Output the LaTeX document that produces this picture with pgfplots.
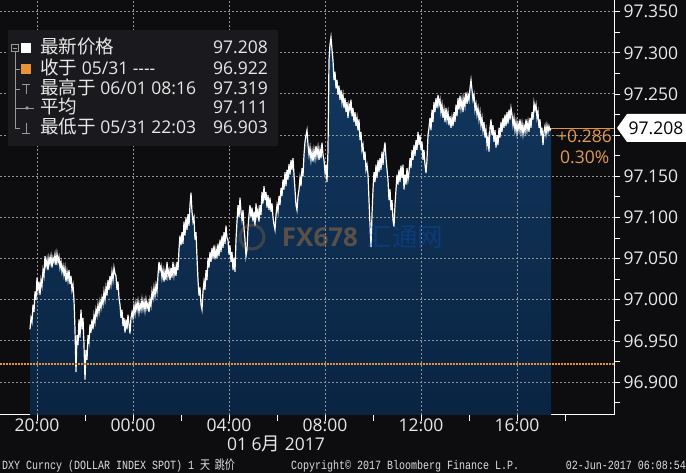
\documentclass[border=0pt]{standalone}
\usepackage{fontspec}
\setmainfont{Open Sans}
\newfontfamily\cjk[Scale=1.06]{Noto Sans CJK SC}
\newfontfamily\mono{Liberation Mono}
\usepackage{graphicx}
\usepackage{pgfplots}
\usepackage{pgfplotstable}
\pgfplotsset{compat=1.18}
\definecolor{bg}{HTML}{0D0D10}
\definecolor{legbg}{HTML}{1A1A1E}
\definecolor{orng}{HTML}{E8923A}
\definecolor{orngtxt}{HTML}{E39A52}
\definecolor{txt}{HTML}{E8E8E8}
\definecolor{areatop}{RGB}{18,56,96}
\definecolor{areabot}{RGB}{10,36,66}
\tikzset{gl/.style={draw=gray!85, line width=1pt, dash pattern=on 2pt off 2pt}}

% x = minutes from 01 Jun 00:00, y = DXY
\pgfplotstableread[row sep=\\]{
x y\\
-257.5 96.964\\ -255 96.978\\ -252.5 96.973\\ -250 96.994\\ -247.5 96.985\\ -245 97.010\\ -242.5 97.000\\ -240 97.027\\ -237.5 97.012\\ -235 97.022\\
-232.5 97.006\\ -230 97.024\\ -227.5 97.017\\ -225 97.036\\ -222.5 97.029\\ -220 97.053\\ -217.5 97.041\\ -215 97.049\\ -212.5 97.036\\ -210 97.051\\
-207.5 97.044\\ -205 97.053\\ -202.5 97.039\\ -200 97.051\\ -197.5 97.046\\ -195 97.055\\ -192.5 97.042\\ -190 97.056\\ -187.5 97.046\\ -185 97.052\\
-182.5 97.039\\ -180 97.046\\ -177.5 97.034\\ -175 97.041\\ -172.5 97.030\\ -170 97.039\\ -167.5 97.022\\ -165 97.034\\ -162.5 97.024\\ -160 97.036\\
-157.5 97.019\\ -155 97.029\\ -152.5 97.012\\ -150 97.018\\ -147.5 97.000\\ -145 96.964\\ -142.5 96.912\\ -140 96.957\\ -137.5 96.945\\ -135 96.976\\
-132.5 96.954\\ -130 96.988\\ -127.5 96.964\\ -125 96.978\\ -122.5 96.945\\ -120 96.903\\ -117.5 96.939\\ -115 96.927\\ -112.5 96.957\\ -110 96.949\\
-107.5 96.970\\ -105 96.960\\ -102.5 96.976\\ -100 96.964\\ -97.5 96.981\\ -95 96.973\\ -92.5 96.988\\ -90 96.981\\ -87.5 96.994\\ -85 96.985\\
-82.5 96.998\\ -80 96.990\\ -77.5 97.002\\ -75 96.995\\ -72.5 97.010\\ -70 97.000\\ -67.5 97.015\\ -65 97.005\\ -62.5 97.024\\ -60 97.012\\
-57.5 97.029\\ -55 97.019\\ -52.5 97.034\\ -50 97.024\\ -47.5 97.039\\ -45 97.032\\ -42.5 97.029\\ -40 97.012\\ -37.5 97.022\\ -35 97.002\\
-32.5 96.994\\ -30 96.978\\ -27.5 96.988\\ -25 96.968\\ -22.5 96.978\\ -20 96.960\\ -17.5 96.976\\ -15 96.964\\ -12.5 96.982\\ -10 96.970\\
-7.5 96.959\\ -5 96.978\\ -2.5 96.985\\ 0 96.978\\ 2.5 96.993\\ 5 96.983\\ 7.5 96.996\\ 10 96.988\\ 12.5 96.998\\ 15 96.985\\
17.5 96.995\\ 20 96.988\\ 22.5 97.000\\ 25 96.989\\ 27.5 96.998\\ 30 96.987\\ 32.5 97.000\\ 35 96.990\\ 37.5 96.996\\ 40 96.985\\
42.5 97.000\\ 45 96.993\\ 47.5 97.010\\ 50 97.002\\ 52.5 97.015\\ 55 97.005\\ 57.5 97.018\\ 60 97.010\\ 62.5 97.030\\ 65 97.046\\
67.5 97.036\\ 70 97.041\\ 72.5 97.027\\ 75 97.036\\ 77.5 97.022\\ 80 97.034\\ 82.5 97.024\\ 85 97.046\\ 87.5 97.029\\ 90 97.036\\
92.5 97.024\\ 95 97.039\\ 97.5 97.027\\ 100 97.046\\ 102.5 97.030\\ 105 97.039\\ 107.5 97.029\\ 110 97.046\\ 112.5 97.036\\ 115 97.061\\
117.5 97.078\\ 120 97.066\\ 122.5 97.082\\ 125 97.068\\ 127.5 97.095\\ 130 97.078\\ 132.5 97.100\\ 135 97.085\\ 137.5 97.104\\ 140 97.090\\
142.5 97.115\\ 145 97.130\\ 147.5 97.107\\ 150 97.095\\ 152.5 97.100\\ 155 97.073\\ 157.5 97.082\\ 160 97.051\\ 162.5 97.024\\ 165 97.005\\
167.5 97.015\\ 170 96.994\\ 172.5 96.988\\ 175 97.010\\ 177.5 97.022\\ 180 97.012\\ 182.5 97.036\\ 185 97.024\\ 187.5 97.051\\ 190 97.039\\
192.5 97.058\\ 195 97.046\\ 197.5 97.063\\ 200 97.051\\ 202.5 97.066\\ 205 97.049\\ 207.5 97.061\\ 210 97.051\\ 212.5 97.068\\ 215 97.053\\
217.5 97.073\\ 220 97.058\\ 222.5 97.078\\ 225 97.063\\ 227.5 97.082\\ 230 97.068\\ 232.5 97.090\\ 235 97.075\\ 237.5 97.073\\ 240 97.055\\
242.5 97.066\\ 245 97.046\\ 247.5 97.058\\ 250 97.036\\ 252.5 97.051\\ 255 97.034\\ 257.5 97.073\\ 260 97.095\\ 262.5 97.115\\ 265 97.100\\
267.5 97.124\\ 270 97.107\\ 272.5 97.097\\ 275 97.109\\ 277.5 97.087\\ 280 97.073\\ 282.5 97.053\\ 285 97.061\\ 287.5 97.087\\ 290 97.103\\
292.5 97.115\\ 295 97.100\\ 297.5 97.112\\ 300 97.095\\ 302.5 97.107\\ 305 97.090\\ 307.5 97.117\\ 310 97.102\\ 312.5 97.109\\ 315 97.095\\
317.5 97.115\\ 320 97.103\\ 322.5 97.131\\ 325 97.117\\ 327.5 97.138\\ 330 97.121\\ 332.5 97.131\\ 335 97.112\\ 337.5 97.127\\ 340 97.109\\
342.5 97.124\\ 345 97.107\\ 347.5 97.117\\ 350 97.100\\ 352.5 97.091\\ 355 97.085\\ 357.5 97.103\\ 360 97.115\\ 362.5 97.107\\ 365 97.126\\
367.5 97.115\\ 370 97.136\\ 372.5 97.126\\ 375 97.146\\ 377.5 97.134\\ 380 97.155\\ 382.5 97.138\\ 385 97.158\\ 387.5 97.146\\ 390 97.165\\
392.5 97.152\\ 395 97.170\\ 397.5 97.158\\ 400 97.172\\ 402.5 97.152\\ 405 97.134\\ 407.5 97.115\\ 410 97.109\\ 412.5 97.126\\ 415 97.134\\
417.5 97.148\\ 420 97.138\\ 422.5 97.160\\ 425 97.150\\ 427.5 97.176\\ 430 97.192\\ 432.5 97.200\\ 435 97.206\\ 437.5 97.188\\ 440 97.176\\
442.5 97.185\\ 445 97.170\\ 447.5 97.180\\ 450 97.168\\ 452.5 97.182\\ 455 97.172\\ 457.5 97.187\\ 460 97.175\\ 462.5 97.185\\ 465 97.170\\
467.5 97.182\\ 470 97.172\\ 472.5 97.191\\ 475 97.176\\ 477.5 97.170\\ 480 97.155\\ 482.5 97.164\\ 485 97.143\\ 487.5 97.182\\ 490 97.291\\
492.5 97.310\\ 495 97.319\\ 497.5 97.304\\ 500 97.291\\ 502.5 97.267\\ 505 97.277\\ 507.5 97.257\\ 510 97.267\\ 512.5 97.249\\ 515 97.260\\
517.5 97.243\\ 520 97.255\\ 522.5 97.240\\ 525 97.249\\ 527.5 97.233\\ 530 97.245\\ 532.5 97.228\\ 535 97.240\\ 537.5 97.221\\ 540 97.237\\
542.5 97.231\\ 545 97.243\\ 547.5 97.223\\ 550 97.233\\ 552.5 97.216\\ 555 97.228\\ 557.5 97.211\\ 560 97.221\\ 562.5 97.206\\ 565 97.219\\
567.5 97.194\\ 570 97.204\\ 572.5 97.182\\ 575 97.188\\ 577.5 97.170\\ 580 97.180\\ 582.5 97.158\\ 585 97.164\\ 587.5 97.152\\ 590 97.121\\
592.5 97.091\\ 595 97.064\\ 597.5 97.103\\ 600 97.134\\ 602.5 97.155\\ 605 97.143\\ 607.5 97.164\\ 610 97.148\\ 612.5 97.170\\ 615 97.155\\
617.5 97.172\\ 620 97.158\\ 622.5 97.180\\ 625 97.164\\ 627.5 97.182\\ 630 97.191\\ 632.5 97.172\\ 635 97.158\\ 637.5 97.146\\ 640 97.121\\
642.5 97.134\\ 645 97.109\\ 647.5 97.121\\ 650 97.097\\ 652.5 97.089\\ 655 97.115\\ 657.5 97.134\\ 660 97.152\\ 662.5 97.140\\ 665 97.158\\
667.5 97.143\\ 670 97.163\\ 672.5 97.148\\ 675 97.164\\ 677.5 97.134\\ 680 97.152\\ 682.5 97.140\\ 685 97.160\\ 687.5 97.146\\ 690 97.155\\
692.5 97.172\\ 695 97.160\\ 697.5 97.182\\ 700 97.170\\ 702.5 97.188\\ 705 97.175\\ 707.5 97.194\\ 710 97.182\\ 712.5 97.204\\ 715 97.188\\
717.5 97.200\\ 720 97.182\\ 722.5 97.192\\ 725 97.170\\ 727.5 97.182\\ 730 97.164\\ 732.5 97.154\\ 735 97.170\\ 737.5 97.200\\ 740 97.209\\
742.5 97.221\\ 745 97.206\\ 747.5 97.231\\ 750 97.216\\ 752.5 97.240\\ 755 97.228\\ 757.5 97.245\\ 760 97.233\\ 762.5 97.249\\ 765 97.237\\
767.5 97.243\\ 770 97.228\\ 772.5 97.237\\ 775 97.221\\ 777.5 97.231\\ 780 97.216\\ 782.5 97.233\\ 785 97.219\\ 787.5 97.228\\ 790 97.212\\
792.5 97.223\\ 795 97.209\\ 797.5 97.221\\ 800 97.211\\ 802.5 97.228\\ 805 97.216\\ 807.5 97.237\\ 810 97.223\\ 812.5 97.245\\ 815 97.231\\
817.5 97.248\\ 820 97.233\\ 822.5 97.243\\ 825 97.228\\ 827.5 97.245\\ 830 97.236\\ 832.5 97.252\\ 835 97.238\\ 837.5 97.249\\ 840 97.243\\
842.5 97.257\\ 845 97.267\\ 847.5 97.255\\ 850 97.243\\ 852.5 97.249\\ 855 97.231\\ 857.5 97.238\\ 860 97.225\\ 862.5 97.233\\ 865 97.219\\
867.5 97.228\\ 870 97.212\\ 872.5 97.221\\ 875 97.206\\ 877.5 97.216\\ 880 97.197\\ 882.5 97.206\\ 885 97.188\\ 887.5 97.197\\ 890 97.180\\
892.5 97.209\\ 895 97.219\\ 897.5 97.200\\ 900 97.212\\ 902.5 97.192\\ 905 97.206\\ 907.5 97.185\\ 910 97.200\\ 912.5 97.188\\ 915 97.209\\
917.5 97.197\\ 920 97.216\\ 922.5 97.204\\ 925 97.221\\ 927.5 97.209\\ 930 97.225\\ 932.5 97.211\\ 935 97.228\\ 937.5 97.214\\ 940 97.231\\
942.5 97.219\\ 945 97.233\\ 947.5 97.225\\ 950 97.212\\ 952.5 97.221\\ 955 97.206\\ 957.5 97.216\\ 960 97.203\\ 962.5 97.214\\ 965 97.206\\
967.5 97.219\\ 970 97.204\\ 972.5 97.214\\ 975 97.201\\ 977.5 97.211\\ 980 97.204\\ 982.5 97.219\\ 985 97.206\\ 987.5 97.216\\ 990 97.204\\
992.5 97.221\\ 995 97.209\\ 997.5 97.228\\ 1000 97.219\\ 1002.5 97.239\\ 1005 97.231\\ 1007.5 97.237\\ 1010 97.221\\ 1012.5 97.228\\ 1015 97.209\\
1017.5 97.219\\ 1020 97.200\\ 1022.5 97.209\\ 1025 97.188\\ 1027.5 97.204\\ 1030 97.211\\ 1032.5 97.201\\ 1035 97.212\\ 1037.5 97.204\\ 1040 97.211\\
1042.5 97.206\\ 1045 97.208\\
}\dxy

\begin{document}
\begin{tikzpicture}
\fill[bg] (0,0) rectangle (686pt,473pt);
\useasboundingbox (0,0) rectangle (686pt,473pt);
\begin{axis}[
  at={(0pt,58pt)}, anchor=south west,
  scale only axis, width=614pt, height=415pt,
  xmin=-332.5, xmax=1202.5, ymin=96.860, ymax=97.3642,
  axis x line*=bottom, axis y line*=right,
  axis line style={white, line width=1pt, -},
  xtick={-240,0,240,480,720,960},
  xticklabels={20:00,00:00,04:00,08:00,12:00,16:00},
  minor xtick={-120,120,360,600,840,1080},
  ytick={96.9,96.95,97,97.05,97.1,97.15,97.25,97.3,97.35},
  extra y ticks={97.2}, extra y tick labels={},
  minor ytick={96.875,96.925,96.975,97.025,97.075,97.125,97.175,97.225,97.275,97.325},
  tick align=outside,
  major tick length=6pt, minor tick length=6pt,
  tick style={white, line width=0.8pt},
  ticklabel style={font=\fontsize{17.5}{20}\selectfont, text=txt},
  yticklabel style={/pgf/number format/.cd, fixed, fixed zerofill, precision=3, assume math mode=true},
  xticklabel style={/pgf/number format/assume math mode=true, yshift=6pt},
  clip=true,
]
\addplot[draw=none, top color=areatop, bottom color=areabot] table {\dxy} |- (axis cs:-257.5,96.86) -- cycle;
% grid
\draw[gl] (axis cs:-332.5,96.9) -- (axis cs:1202.5,96.9);
\draw[gl] (axis cs:-332.5,96.95) -- (axis cs:1202.5,96.95);
\draw[gl] (axis cs:-332.5,97.0) -- (axis cs:1202.5,97.0);
\draw[gl] (axis cs:-332.5,97.05) -- (axis cs:1202.5,97.05);
\draw[gl] (axis cs:-332.5,97.1) -- (axis cs:1202.5,97.1);
\draw[gl] (axis cs:-332.5,97.15) -- (axis cs:1202.5,97.15);
\draw[gl] (axis cs:-332.5,97.2) -- (axis cs:1202.5,97.2);
\draw[gl] (axis cs:-332.5,97.25) -- (axis cs:1202.5,97.25);
\draw[gl] (axis cs:-332.5,97.3) -- (axis cs:1202.5,97.3);
\draw[gl] (axis cs:-332.5,97.35) -- (axis cs:1202.5,97.35);
\draw[gl] (axis cs:-240,96.86) -- (axis cs:-240,97.3642);
\draw[gl] (axis cs:0,96.86) -- (axis cs:0,97.3642);
\draw[gl] (axis cs:240,96.86) -- (axis cs:240,97.3642);
\draw[gl] (axis cs:480,96.86) -- (axis cs:480,97.3642);
\draw[gl] (axis cs:720,96.86) -- (axis cs:720,97.3642);
\draw[gl] (axis cs:960,96.86) -- (axis cs:960,97.3642);
\addplot[white, line width=1.2pt] table {\dxy};
\addplot[orng, line width=1.2pt, dash pattern=on 1.5pt off 1.5pt] coordinates {(-332.5,96.922) (1202.5,96.922)};
\addplot[orng, line width=0.8pt] coordinates {(1045,97.208) (1202.5,97.208)};
\end{axis}

% watermark
\draw[orng, opacity=0.22, line width=3pt] (252pt,236pt) circle (12pt);
\node[text=orng, opacity=0.35, font=\bfseries\fontsize{26}{28}\selectfont] at (320pt,236pt) {FX678};
\node[text=blue!60!cyan, opacity=0.25, font=\fontsize{24}{26}\selectfont] at (405pt,236pt) {\cjk 汇通网};

% legend
\fill[legbg] (8pt,327pt) rectangle (278pt,443pt);
\draw[gray!80, line width=0.6pt] (15pt,421pt) -- (15pt,345pt)
  (15pt,404pt) -- (20pt,404pt) (15pt,384pt) -- (20pt,384pt)
  (15pt,365pt) -- (20pt,365pt) (15pt,345pt) -- (20pt,345pt);
\draw[gray!80, line width=0.6pt] (11.5pt,421.5pt) rectangle (18.5pt,428.5pt) (13pt,425pt) -- (17pt,425pt);
\fill[white] (21pt,420pt) rectangle (31pt,430pt);
\fill[orng] (21pt,399pt) rectangle (31pt,409pt);
\draw[gray!80, line width=0.7pt] (22pt,389pt) -- (30pt,389pt) (26pt,389pt) -- (26pt,379pt);
\draw[gray!80, line width=0.7pt] (20pt,365pt) -- (34pt,365pt);
\fill[gray!80] (27pt,365pt) circle (1.8pt);
\draw[gray!80, line width=0.7pt] (26pt,350pt) -- (26pt,340pt) (22pt,340pt) -- (30pt,340pt);
\begin{scope}[every node/.style={inner sep=0pt, text=txt, font=\fontsize{17.5}{20}\selectfont}]
\node[anchor=base west] at (40pt,419pt) {\cjk 最新价格};
\node[anchor=base west] at (40pt,398pt) {{\cjk 收于} 05/31 {-}{-}{-}{-}};
\node[anchor=base west] at (40pt,378pt) {{\cjk 最高于} 06/01 08:16};
\node[anchor=base west] at (40pt,359pt) {\cjk 平均};
\node[anchor=base west] at (40pt,339pt) {{\cjk 最低于} 05/31 22:03};
\node[anchor=base east] at (268pt,419pt) {97.208};
\node[anchor=base east] at (268pt,398pt) {96.922};
\node[anchor=base east] at (268pt,378pt) {97.319};
\node[anchor=base east] at (268pt,359pt) {97.111};
\node[anchor=base east] at (268pt,339pt) {96.903};
\end{scope}

% last price tag
\fill[white] (617pt,345pt) -- (627pt,359pt) -- (686pt,359pt) -- (686pt,331pt) -- (627pt,331pt) -- cycle;
\node[text=black, inner sep=0pt, font=\fontsize{17.5}{20}\selectfont] at (656pt,345pt) {97.208};
\node[text=orngtxt, inner sep=0pt, anchor=east, font=\fontsize{17.5}{20}\selectfont] at (612pt,337pt) {+0.286};
\node[text=orngtxt, inner sep=0pt, anchor=west, font=\fontsize{17.5}{20}\selectfont] at (560pt,316pt) {0.30\%};

% date
\node[text=txt, inner sep=0pt, font=\fontsize{17.5}{20}\selectfont] at (276pt,29pt) {01 6{\cjk 月} 2017};

% footer
\begin{scope}[every node/.style={inner sep=0pt, text=txt!90!gray}]
\node[anchor=base west] at (2pt,3pt) {\scalebox{1}[1.25]{\fontsize{10}{12}\selectfont\mono DXY Curncy (DOLLAR INDEX SPOT) 1 {\cjk\fontsize{9.5}{12}\selectfont 天\ \ 跳价}}};
\node[anchor=base west] at (291pt,3pt) {\scalebox{1}[1.25]{\fontsize{10}{12}\selectfont\mono Copyright\textcopyright{} 2017 Bloomberg Finance L.P.}};
\node[anchor=base east] at (686pt,3pt) {\scalebox{1}[1.25]{\fontsize{10}{12}\selectfont\mono 02-Jun-2017 06:08:54}};
\end{scope}
\end{tikzpicture}
\end{document}
